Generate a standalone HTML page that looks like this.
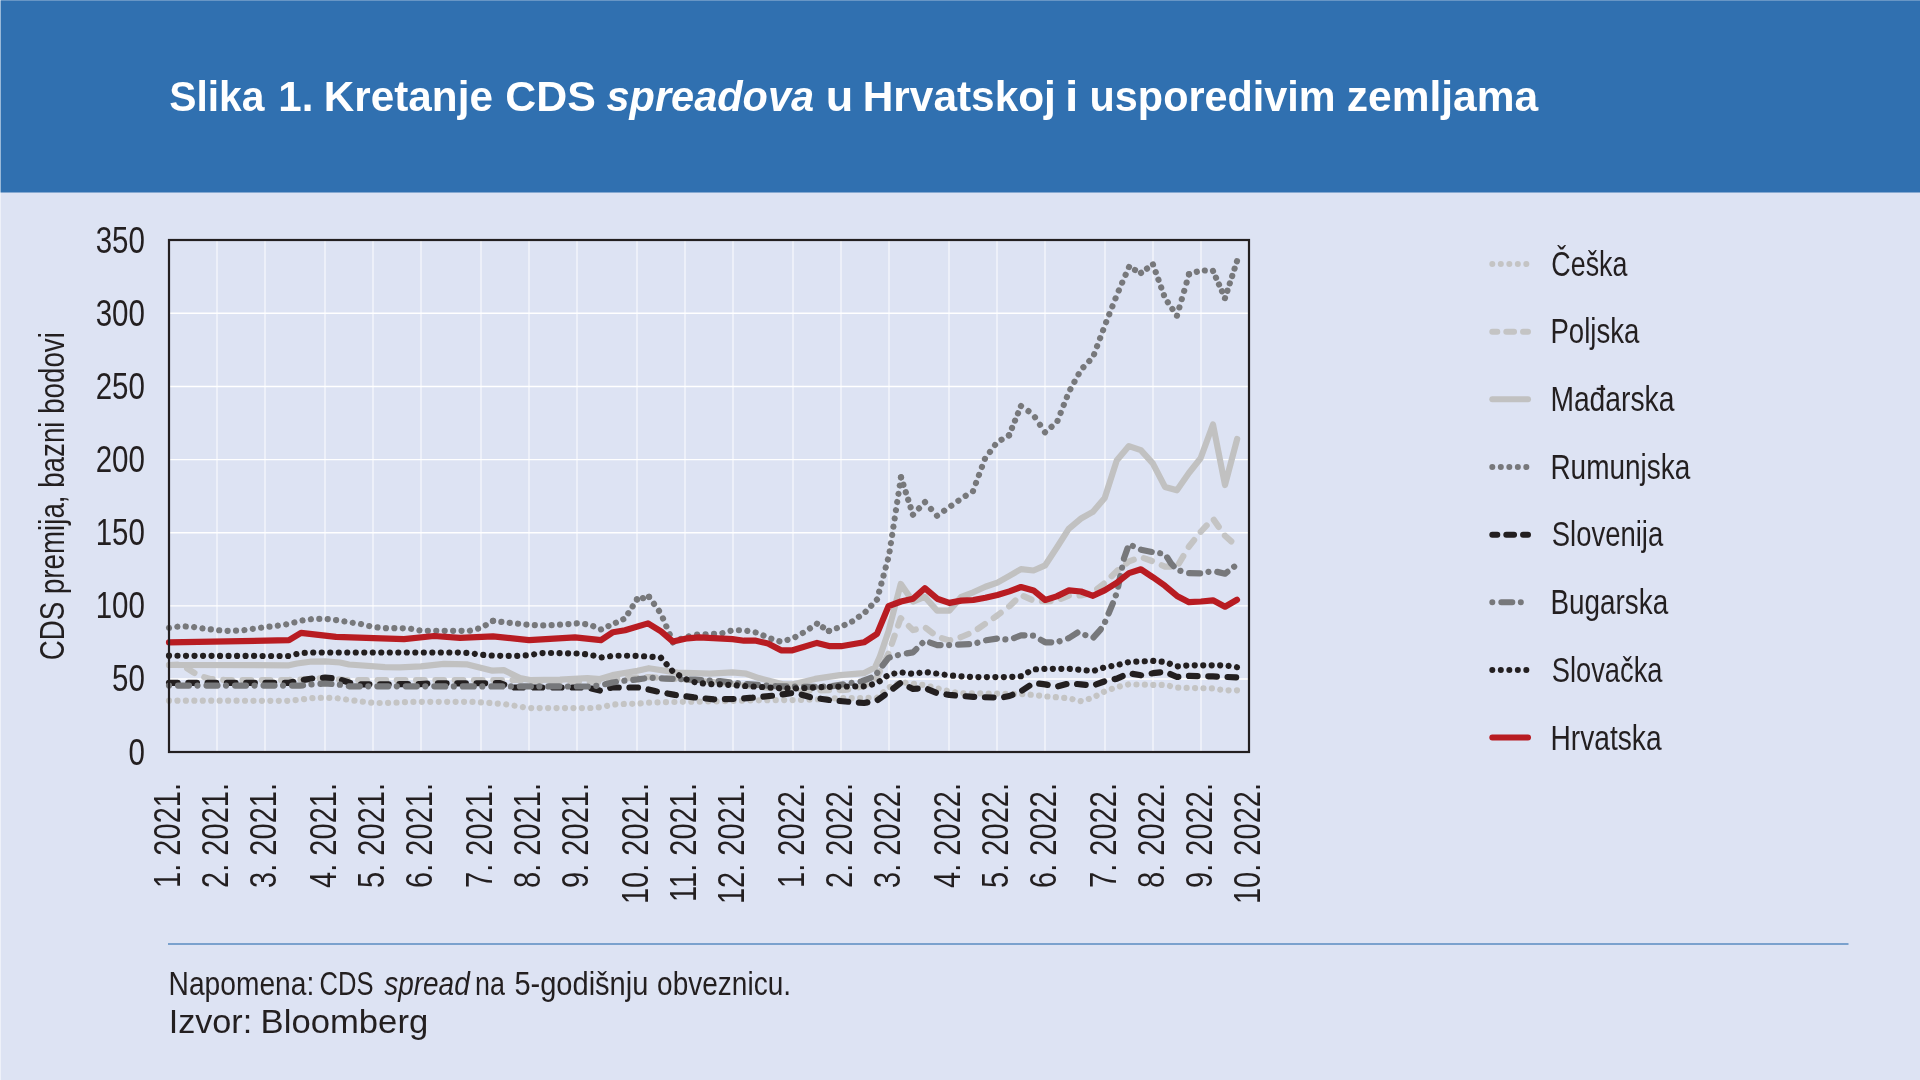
<!DOCTYPE html>
<html lang="hr"><head><meta charset="utf-8"><title>Slika 1. Kretanje CDS spreadova u Hrvatskoj i usporedivim zemljama</title>
<style>html,body{margin:0;padding:0;background:#dde3f3;}body{width:1920px;height:1080px;overflow:hidden;font-family:"Liberation Sans",sans-serif;}svg{display:block;will-change:transform;}svg text{font-family:"Liberation Sans",sans-serif;}</style>
</head><body>
<svg width="1920" height="1080" viewBox="0 0 1920 1080">
<rect x="0" y="0" width="1920" height="1080" fill="#dde3f3"/>
<rect x="0" y="0" width="1920" height="192.5" fill="#3070b0"/>
<rect x="0" y="0" width="1920" height="1" fill="#ffffff" fill-opacity="0.27"/>
<rect x="0" y="0" width="1" height="1080" fill="#ffffff" fill-opacity="0.5"/>
<g stroke="#ffffff" fill="none">
<line x1="217" y1="240" x2="217" y2="752" stroke="#f6f8fc" stroke-width="1.3"/>
<line x1="265" y1="240" x2="265" y2="752" stroke="#f6f8fc" stroke-width="1.3"/>
<line x1="325" y1="240" x2="325" y2="752" stroke="#f6f8fc" stroke-width="1.3"/>
<line x1="373" y1="240" x2="373" y2="752" stroke="#f6f8fc" stroke-width="1.3"/>
<line x1="421" y1="240" x2="421" y2="752" stroke="#f6f8fc" stroke-width="1.3"/>
<line x1="481" y1="240" x2="481" y2="752" stroke="#f6f8fc" stroke-width="1.3"/>
<line x1="529" y1="240" x2="529" y2="752" stroke="#f6f8fc" stroke-width="1.3"/>
<line x1="577" y1="240" x2="577" y2="752" stroke="#f6f8fc" stroke-width="1.3"/>
<line x1="637" y1="240" x2="637" y2="752" stroke="#f6f8fc" stroke-width="1.3"/>
<line x1="685" y1="240" x2="685" y2="752" stroke="#f6f8fc" stroke-width="1.3"/>
<line x1="733" y1="240" x2="733" y2="752" stroke="#f6f8fc" stroke-width="1.3"/>
<line x1="793" y1="240" x2="793" y2="752" stroke="#f6f8fc" stroke-width="1.3"/>
<line x1="841" y1="240" x2="841" y2="752" stroke="#f6f8fc" stroke-width="1.3"/>
<line x1="889" y1="240" x2="889" y2="752" stroke="#f6f8fc" stroke-width="1.3"/>
<line x1="949" y1="240" x2="949" y2="752" stroke="#f6f8fc" stroke-width="1.3"/>
<line x1="997" y1="240" x2="997" y2="752" stroke="#f6f8fc" stroke-width="1.3"/>
<line x1="1045" y1="240" x2="1045" y2="752" stroke="#f6f8fc" stroke-width="1.3"/>
<line x1="1105" y1="240" x2="1105" y2="752" stroke="#f6f8fc" stroke-width="1.3"/>
<line x1="1153" y1="240" x2="1153" y2="752" stroke="#f6f8fc" stroke-width="1.3"/>
<line x1="1201" y1="240" x2="1201" y2="752" stroke="#f6f8fc" stroke-width="1.3"/>
<line x1="169" y1="679.01" x2="1249" y2="679.01" stroke-width="1.4"/>
<line x1="169" y1="605.86" x2="1249" y2="605.86" stroke-width="1.4"/>
<line x1="169" y1="532.72" x2="1249" y2="532.72" stroke-width="1.4"/>
<line x1="169" y1="459.58" x2="1249" y2="459.58" stroke-width="1.4"/>
<line x1="169" y1="386.44" x2="1249" y2="386.44" stroke-width="1.4"/>
<line x1="169" y1="313.29" x2="1249" y2="313.29" stroke-width="1.4"/>
</g>
<g fill="none" stroke-width="6.2" stroke-linecap="round" stroke-linejoin="round">
<polyline stroke="#c4c4c4" stroke-dasharray="0.01 8.4350" points="169.0,700.7 181.0,700.7 193.0,700.7 205.0,700.7 217.0,700.7 229.0,700.7 241.0,700.7 253.0,700.8 265.0,700.8 277.0,700.8 289.0,700.8 301.0,699.5 313.0,698.1 325.0,697.6 337.0,698.2 349.0,699.9 361.0,701.5 373.0,702.9 385.0,703.1 397.0,702.5 409.0,701.9 421.0,701.8 433.0,701.8 445.0,701.8 457.0,701.8 469.0,701.8 481.0,702.3 493.0,703.2 505.0,704.2 517.0,706.1 529.0,708.1 541.0,708.1 553.0,708.1 565.0,708.1 577.0,708.1 589.0,708.1 601.0,707.2 613.0,704.6 625.0,703.9 637.0,703.7 649.0,702.7 661.0,702.2 673.0,702.0 685.0,701.8 697.0,701.7 709.0,701.5 721.0,701.2 733.0,700.9 745.0,700.6 757.0,700.3 769.0,700.2 781.0,700.1 793.0,700.1 805.0,699.8 817.0,699.3 829.0,698.7 841.0,698.2 853.0,698.1 865.0,698.0 877.0,697.9"/>
<polyline stroke="#c4c4c4" stroke-dasharray="0.01 8.4060" points="877.0,697.9 889.0,687.4 901.0,682.1 913.0,683.7 925.0,685.2 937.0,688.2 949.0,691.3 961.0,693.2 973.0,693.4 985.0,693.5 997.0,693.7 1009.0,693.9 1021.0,694.0 1033.0,694.9 1045.0,696.3 1057.0,697.3 1069.0,698.3 1081.0,701.2 1093.0,697.7 1105.0,691.3 1117.0,687.0 1129.0,684.3 1141.0,684.6 1153.0,684.9 1165.0,684.9 1177.0,687.6 1189.0,687.9 1201.0,688.2 1213.0,688.5 1225.0,690.3 1237.0,690.3"/>
<polyline stroke="#c4c4c4" stroke-dasharray="8.6 10.7" points="169.0,665.0 181.0,664.5 193.8,672.6 201.0,676.2 210.0,679.0 225.0,680.0 289.0,680.0 313.0,678.9 325.0,678.1 345.0,680.0 520.0,680.0 530.0,681.1 600.0,681.8 612.0,679.6 637.0,677.4 650.0,677.1 685.0,679.6 710.0,681.8 733.0,684.0 760.0,686.9 796.0,690.6 845.0,690.0 864.0,686.2 877.0,677.4 888.5,653.4 900.7,618.1 913.0,630.1 924.8,627.1 937.2,636.7 949.3,640.4 961.3,637.0 973.3,632.0 985.4,623.7 997.4,615.4 1009.4,606.2 1021.0,595.0 1033.5,600.6 1045.2,601.5 1056.7,600.6 1069.0,595.5 1081.0,595.5 1093.0,592.3 1105.0,582.7 1117.0,570.9 1129.0,561.4 1141.0,557.1 1153.0,561.4 1165.0,566.7 1177.0,566.7 1189.0,546.5 1201.0,531.5 1213.0,518.7 1225.0,535.8 1237.0,546.5"/>
<polyline stroke="#c1c1c1" points="169.0,665.0 289.0,665.3 297.0,663.5 310.0,661.7 325.0,661.3 340.0,662.5 349.0,664.5 385.0,667.2 400.0,667.4 421.0,666.4 443.8,663.9 467.5,664.4 492.5,670.7 503.8,670.1 520.0,678.1 530.0,680.0 560.0,679.6 587.5,678.1 600.0,679.0 612.5,675.1 637.5,670.7 648.8,668.2 677.5,672.6 710.0,673.7 732.5,672.3 746.2,673.7 758.8,678.1 783.8,684.4 792.5,684.4 815.0,678.9 840.0,675.1 863.8,673.2 875.0,667.4 880.0,656.2 888.5,631.2 900.7,583.9 913.0,601.5 924.8,596.9 937.2,610.7 949.3,610.7 961.3,596.9 973.3,592.3 985.4,586.7 997.4,582.6 1009.4,575.9 1021.0,569.1 1033.5,570.5 1045.2,565.3 1056.7,547.8 1068.7,528.9 1080.6,518.8 1092.8,511.9 1104.7,498.0 1116.7,460.6 1128.9,446.1 1140.8,450.1 1152.8,463.4 1165.0,486.9 1176.9,490.3 1188.9,473.0 1200.6,458.3 1213.0,424.5 1225.0,485.0 1237.2,438.9"/>
<polyline stroke="#77787b" stroke-dasharray="0.01 8.4178" points="169.0,627.9 181.0,626.2 193.0,626.9 205.0,628.8 217.0,630.1 229.0,630.9 241.0,630.5 253.0,628.8 265.0,627.2 277.0,625.8 289.0,623.9 301.0,620.6 313.0,618.9 325.0,618.8 337.0,620.2 349.0,622.2 361.0,624.1 373.0,627.0 385.0,628.1 397.0,628.2 409.0,628.4 421.0,630.7 433.0,630.8 445.0,630.8 457.0,630.8 469.0,630.9 481.0,627.9 493.0,620.9"/>
<polyline stroke="#77787b" stroke-dasharray="0.01 8.3984" points="493.0,620.9 505.0,622.3 517.0,623.6 529.0,624.9 541.0,625.4 553.0,625.0 565.0,624.4 577.0,623.4 589.0,624.5 601.0,629.4"/>
<polyline stroke="#77787b" stroke-dasharray="0.01 8.1379" points="601.0,629.4 613.0,624.1 625.0,618.5 637.0,599.4"/>
<polyline stroke="#77787b" stroke-dasharray="0.01 6.1174" points="637.0,599.4 649.0,596.9"/>
<polyline stroke="#77787b" stroke-dasharray="0.01 8.5833" points="649.0,596.9 661.0,613.7 673.0,642.2"/>
<polyline stroke="#77787b" stroke-dasharray="0.01 8.4546" points="673.0,642.2 685.0,637.1 697.0,634.7 709.0,634.1 721.0,633.6 733.0,630.1 745.0,630.4 757.0,632.7 769.0,638.0 781.0,641.8 793.0,638.3 805.0,631.7 817.0,623.7"/>
<polyline stroke="#77787b" stroke-dasharray="0.01 6.9788" points="817.0,623.7 829.0,630.9"/>
<polyline stroke="#77787b" stroke-dasharray="0.01 8.3134" points="829.0,630.9 841.0,626.7 853.0,621.1 865.0,612.4 877.0,599.6 889.0,555.5 901.0,477.3"/>
<polyline stroke="#77787b" stroke-dasharray="0.01 7.8481" points="901.0,477.3 913.0,514.7"/>
<polyline stroke="#77787b" stroke-dasharray="0.01 8.7120" points="913.0,514.7 925.0,502.1"/>
<polyline stroke="#77787b" stroke-dasharray="0.01 9.1215" points="925.0,502.1 937.0,515.8"/>
<polyline stroke="#77787b" stroke-dasharray="0.01 8.7310" points="937.0,515.8 949.0,507.4 961.0,498.8 973.0,491.1"/>
<polyline stroke="#77787b" stroke-dasharray="0.01 8.5793" points="973.0,491.1 985.0,458.7 997.0,442.3 1009.0,435.3"/>
<polyline stroke="#77787b" stroke-dasharray="0.01 7.9098" points="1009.0,435.3 1021.0,406.0"/>
<polyline stroke="#77787b" stroke-dasharray="0.01 9.0582" points="1021.0,406.0 1033.0,414.2 1045.0,432.3"/>
<polyline stroke="#77787b" stroke-dasharray="0.01 8.5370" points="1045.0,432.3 1057.0,422.2 1069.0,391.7 1081.0,369.8 1093.0,357.2 1105.0,325.1 1117.0,294.6 1129.0,267.0"/>
<polyline stroke="#77787b" stroke-dasharray="0.01 6.6845" points="1129.0,267.0 1141.0,272.9"/>
<polyline stroke="#77787b" stroke-dasharray="0.01 7.3430" points="1141.0,272.9 1153.0,264.4"/>
<polyline stroke="#77787b" stroke-dasharray="0.01 8.1447" points="1153.0,264.4 1165.0,298.1 1177.0,315.7"/>
<polyline stroke="#77787b" stroke-dasharray="0.01 8.6067" points="1177.0,315.7 1189.0,274.3"/>
<polyline stroke="#77787b" stroke-dasharray="0.01 8.2152" points="1189.0,274.3 1201.0,270.3 1213.0,270.9"/>
<polyline stroke="#77787b" stroke-dasharray="0.01 7.4244" points="1213.0,270.9 1225.0,298.1"/>
<polyline stroke="#77787b" stroke-dasharray="0.01 7.7380" points="1225.0,298.1 1237.0,261.2"/>
<polyline stroke="#231f20" stroke-dasharray="8.6 10.7" points="169.0,682.8 289.0,682.8 301.0,680.3 313.0,678.4 325.0,677.7 337.0,678.6 349.0,682.5 361.0,684.4 420.0,684.1 432.0,683.4 500.0,683.2 512.0,687.5 587.0,687.5 600.0,690.6 612.0,687.5 640.0,687.5 656.0,691.3 675.0,694.9 694.0,697.4 714.0,699.3 734.0,699.0 752.5,697.7 772.5,695.7 791.0,693.2 800.0,694.2 811.0,697.4 830.0,700.1 849.0,701.8 864.0,703.0 877.0,700.5 888.5,692.2 900.7,682.7 913.0,689.0 924.8,687.9 937.2,693.2 949.3,694.9 973.3,696.9 1001.0,697.7 1009.4,696.0 1021.0,691.3 1033.5,683.0 1045.2,684.4 1056.7,686.6 1069.0,683.4 1081.0,684.3 1093.0,685.6 1105.0,681.2 1117.0,678.6 1129.0,673.2 1141.0,675.3 1153.0,673.2 1165.0,671.7 1177.0,677.0 1189.0,675.9 1213.0,676.4 1237.0,677.4"/>
<polyline stroke="#77787b" stroke-dasharray="0.01 9 11 8.5" points="169.0,685.6 300.0,685.6 313.0,684.3 325.0,683.5 340.0,684.7 349.0,686.3 590.0,686.5 600.0,685.4 612.5,682.5 622.5,680.9 637.5,679.4 650.0,677.7 665.0,678.6 677.5,679.1 695.0,679.7 720.0,681.2 745.0,684.0 777.0,686.3 812.0,686.9 831.0,686.3 845.0,684.0 862.0,681.2 875.0,676.2 880.0,668.8 888.5,657.9 900.7,654.3 913.0,652.4 924.8,640.7 937.2,645.1 949.3,645.1 973.3,644.0 985.4,640.4 997.4,638.5 1009.4,639.9 1021.0,635.3 1033.5,635.7 1045.2,642.3 1056.7,642.3 1069.0,638.0 1078.0,632.3 1093.0,638.0 1100.5,629.6 1105.0,622.1 1113.0,602.9 1117.0,592.3 1124.0,558.2 1129.0,544.3 1141.0,549.7 1153.0,552.2 1165.0,553.9 1171.0,563.4 1177.0,569.9 1189.0,573.1 1201.0,573.5 1213.0,570.9 1225.0,573.7 1237.0,564.5"/>
<polyline stroke="#231f20" stroke-dasharray="0.01 8.4974" points="169.0,655.7 181.0,655.8 193.0,655.8 205.0,655.8 217.0,655.9 229.0,655.9 241.0,655.9 253.0,655.9 265.0,656.0 277.0,656.0 289.0,656.0 301.0,652.9 313.0,652.5 325.0,652.5 337.0,652.5 349.0,652.5 361.0,652.5 373.0,652.5 385.0,652.5 397.0,652.5 409.0,652.5 421.0,652.5 433.0,652.5 445.0,652.5 457.0,652.5 469.0,652.9 481.0,654.8 493.0,655.6 505.0,655.9 517.0,655.8 529.0,655.2 541.0,653.1 553.0,653.0 565.0,653.3 577.0,653.5 589.0,654.5 601.0,657.5 613.0,655.8 625.0,655.7 637.0,655.9 649.0,656.5 661.0,657.9"/>
<polyline stroke="#231f20" stroke-dasharray="0.01 8.4657" points="661.0,657.9 673.0,671.7 685.0,678.9 697.0,682.9 709.0,684.0 721.0,684.4 733.0,685.1 745.0,686.0 757.0,686.7 769.0,687.4 781.0,688.3 793.0,688.5 805.0,688.0 817.0,687.4 829.0,686.9 841.0,686.5 853.0,686.5 865.0,686.3 877.0,683.2 889.0,674.5 901.0,672.3 913.0,673.9 925.0,672.0 937.0,673.6 949.0,675.4 961.0,676.3 973.0,677.1 985.0,677.1 997.0,677.1 1009.0,677.1 1021.0,676.2 1033.0,669.4 1045.0,668.8 1057.0,668.8 1069.0,668.8 1081.0,669.9 1093.0,671.1 1105.0,667.2 1117.0,665.1 1129.0,662.0 1141.0,661.4 1153.0,660.9 1165.0,662.0 1177.0,666.4 1189.0,665.3 1201.0,665.3 1213.0,665.3 1225.0,665.3 1237.0,667.2"/>
<polyline stroke="#b81c22" points="169.0,642.4 289.0,640.2 301.0,632.8 336.0,636.9 404.0,639.1 434.0,636.0 460.0,637.9 493.0,636.3 529.0,640.2 575.0,637.3 601.0,640.2 613.0,632.2 625.0,630.3 648.0,623.4 661.0,631.3 673.0,641.6 687.5,638.3 699.0,637.3 732.5,639.1 744.0,640.7 756.0,640.7 768.0,643.5 781.0,650.3 792.5,650.3 817.0,642.9 830.0,646.2 841.0,646.2 864.0,642.3 877.0,633.9 888.5,606.2 901.0,601.5 913.0,598.7 924.8,588.2 937.2,598.7 949.3,602.9 961.3,600.6 973.3,600.0 985.4,597.8 997.4,595.0 1009.4,591.4 1021.0,587.0 1033.5,590.4 1045.2,600.0 1056.7,596.4 1069.0,590.4 1081.0,591.5 1093.0,595.8 1105.0,590.1 1117.0,582.7 1129.0,573.1 1141.0,569.3 1153.0,577.3 1165.0,585.8 1177.0,595.9 1189.0,602.2 1201.0,601.5 1213.0,600.3 1225.0,606.7 1237.0,599.7"/>
</g>
<rect x="169" y="240" width="1080" height="512" fill="none" stroke="#231f20" stroke-width="2.2"/>
<g fill="none" stroke-width="6" stroke-linecap="round">
<line x1="1492.3" y1="264.00" x2="1526.5" y2="264.00" stroke="#c4c4c4" stroke-dasharray="0.01 8.5"/>
<line x1="1492.3" y1="331.66" x2="1528.0" y2="331.66" stroke="#c4c4c4" stroke-dasharray="7.75 9" stroke-dashoffset="2.75"/>
<line x1="1492.3" y1="399.32" x2="1528.0" y2="399.32" stroke="#c1c1c1"/>
<line x1="1492.3" y1="466.98" x2="1526.5" y2="466.98" stroke="#77787b" stroke-dasharray="0.01 8.5"/>
<line x1="1492.3" y1="534.64" x2="1528.0" y2="534.64" stroke="#231f20" stroke-dasharray="7.75 9" stroke-dashoffset="2.75"/>
<line x1="1492.3" y1="602.30" x2="1528.0" y2="602.30" stroke="#77787b" stroke-dasharray="0.01 9 11 8.5"/>
<line x1="1492.3" y1="669.96" x2="1526.5" y2="669.96" stroke="#231f20" stroke-dasharray="0.01 8.5"/>
<line x1="1492.3" y1="737.62" x2="1528.0" y2="737.62" stroke="#b81c22"/>
</g>
<line x1="168" y1="944" x2="1848.5" y2="944" stroke="#7aa1cd" stroke-width="2"/>
<g>
<text transform="translate(169.26 111.00) scale(0.9705 1)" font-size="42" fill="#ffffff" font-weight="bold">Slika</text>
<text transform="translate(278.27 111.00) scale(1.0026 1)" font-size="42" fill="#ffffff" font-weight="bold">1.</text>
<text transform="translate(323.86 111.00) scale(1.0061 1)" font-size="42" fill="#ffffff" font-weight="bold">Kretanje</text>
<text transform="translate(505.26 111.00) scale(1.0214 1)" font-size="42" fill="#ffffff" font-weight="bold">CDS</text>
<text transform="translate(606.50 111.00) scale(0.9882 1)" font-size="42" fill="#ffffff" font-weight="bold" font-style="italic">spreadova</text>
<text transform="translate(825.69 111.00) scale(1.0714 1)" font-size="42" fill="#ffffff" font-weight="bold">u</text>
<text transform="translate(862.75 111.00) scale(1.0091 1)" font-size="42" fill="#ffffff" font-weight="bold">Hrvatskoj</text>
<text transform="translate(1065.10 111.00) scale(1.1429 1)" font-size="42" fill="#ffffff" font-weight="bold">i</text>
<text transform="translate(1089.56 111.00) scale(0.9854 1)" font-size="42" fill="#ffffff" font-weight="bold">usporedivim</text>
<text transform="translate(1346.77 111.00) scale(1.0119 1)" font-size="42" fill="#ffffff" font-weight="bold">zemljama</text>
<text transform="translate(128.53 764.60) scale(0.8149 1)" font-size="36.2" fill="#231f20">0</text>
<text transform="translate(112.12 691.46) scale(0.8149 1)" font-size="36.2" fill="#231f20">50</text>
<text transform="translate(95.72 618.31) scale(0.8149 1)" font-size="36.2" fill="#231f20">100</text>
<text transform="translate(95.72 545.17) scale(0.8149 1)" font-size="36.2" fill="#231f20">150</text>
<text transform="translate(95.72 472.03) scale(0.8149 1)" font-size="36.2" fill="#231f20">200</text>
<text transform="translate(95.72 398.89) scale(0.8149 1)" font-size="36.2" fill="#231f20">250</text>
<text transform="translate(95.72 325.74) scale(0.8149 1)" font-size="36.2" fill="#231f20">300</text>
<text transform="translate(95.72 252.60) scale(0.8149 1)" font-size="36.2" fill="#231f20">350</text>
<text transform="translate(64.20 660.30) rotate(-90) scale(0.8013 1)" font-size="34.6" fill="#231f20">CDS premija, bazni bodovi</text>
<text transform="translate(180.20 887.91) rotate(-90) scale(0.7805 1)" font-size="37.2" fill="#231f20">1. 2021.</text>
<text transform="translate(228.20 887.91) rotate(-90) scale(0.7805 1)" font-size="37.2" fill="#231f20">2. 2021.</text>
<text transform="translate(276.20 887.91) rotate(-90) scale(0.7805 1)" font-size="37.2" fill="#231f20">3. 2021.</text>
<text transform="translate(336.20 887.91) rotate(-90) scale(0.7805 1)" font-size="37.2" fill="#231f20">4. 2021.</text>
<text transform="translate(384.20 887.91) rotate(-90) scale(0.7805 1)" font-size="37.2" fill="#231f20">5. 2021.</text>
<text transform="translate(432.20 887.91) rotate(-90) scale(0.7805 1)" font-size="37.2" fill="#231f20">6. 2021.</text>
<text transform="translate(492.20 887.91) rotate(-90) scale(0.7805 1)" font-size="37.2" fill="#231f20">7. 2021.</text>
<text transform="translate(540.20 887.91) rotate(-90) scale(0.7805 1)" font-size="37.2" fill="#231f20">8. 2021.</text>
<text transform="translate(588.20 887.91) rotate(-90) scale(0.7805 1)" font-size="37.2" fill="#231f20">9. 2021.</text>
<text transform="translate(648.20 904.06) rotate(-90) scale(0.7805 1)" font-size="37.2" fill="#231f20">10. 2021.</text>
<text transform="translate(696.20 901.91) rotate(-90) scale(0.7805 1)" font-size="37.2" fill="#231f20">11. 2021.</text>
<text transform="translate(744.20 904.06) rotate(-90) scale(0.7805 1)" font-size="37.2" fill="#231f20">12. 2021.</text>
<text transform="translate(804.20 887.91) rotate(-90) scale(0.7805 1)" font-size="37.2" fill="#231f20">1. 2022.</text>
<text transform="translate(852.20 887.91) rotate(-90) scale(0.7805 1)" font-size="37.2" fill="#231f20">2. 2022.</text>
<text transform="translate(900.20 887.91) rotate(-90) scale(0.7805 1)" font-size="37.2" fill="#231f20">3. 2022.</text>
<text transform="translate(960.20 887.91) rotate(-90) scale(0.7805 1)" font-size="37.2" fill="#231f20">4. 2022.</text>
<text transform="translate(1008.20 887.91) rotate(-90) scale(0.7805 1)" font-size="37.2" fill="#231f20">5. 2022.</text>
<text transform="translate(1056.20 887.91) rotate(-90) scale(0.7805 1)" font-size="37.2" fill="#231f20">6. 2022.</text>
<text transform="translate(1116.20 887.91) rotate(-90) scale(0.7805 1)" font-size="37.2" fill="#231f20">7. 2022.</text>
<text transform="translate(1164.20 887.91) rotate(-90) scale(0.7805 1)" font-size="37.2" fill="#231f20">8. 2022.</text>
<text transform="translate(1212.20 887.91) rotate(-90) scale(0.7805 1)" font-size="37.2" fill="#231f20">9. 2022.</text>
<text transform="translate(1260.20 904.06) rotate(-90) scale(0.7805 1)" font-size="37.2" fill="#231f20">10. 2022.</text>
<text transform="translate(1551.34 275.60) scale(0.7670 1)" font-size="35.0" fill="#231f20">Češka</text>
<text transform="translate(1550.44 343.32) scale(0.7887 1)" font-size="35.0" fill="#231f20">Poljska</text>
<text transform="translate(1550.39 411.04) scale(0.8071 1)" font-size="35.0" fill="#231f20">Mađarska</text>
<text transform="translate(1550.41 478.76) scale(0.7997 1)" font-size="35.0" fill="#231f20">Rumunjska</text>
<text transform="translate(1551.74 546.48) scale(0.7849 1)" font-size="35.0" fill="#231f20">Slovenija</text>
<text transform="translate(1550.42 614.20) scale(0.7967 1)" font-size="35.0" fill="#231f20">Bugarska</text>
<text transform="translate(1551.75 681.92) scale(0.7800 1)" font-size="35.0" fill="#231f20">Slovačka</text>
<text transform="translate(1550.40 749.64) scale(0.8055 1)" font-size="35.0" fill="#231f20">Hrvatska</text>
<text transform="translate(168.60 994.70) scale(0.8335 1)" font-size="33.8" fill="#231f20">Napomena:</text>
<text transform="translate(319.60 994.70) scale(0.7563 1)" font-size="33.8" fill="#231f20">CDS</text>
<text transform="translate(384.20 994.70) scale(0.8278 1)" font-size="33.8" fill="#231f20" font-style="italic">spread</text>
<text transform="translate(475.12 994.70) scale(0.7956 1)" font-size="33.8" fill="#231f20">na</text>
<text transform="translate(514.39 994.70) scale(0.8594 1)" font-size="33.8" fill="#231f20">5-godišnju</text>
<text transform="translate(657.12 994.70) scale(0.8287 1)" font-size="33.8" fill="#231f20">obveznicu.</text>
<text transform="translate(168.63 1032.50) scale(1.0277 1)" font-size="33.3" fill="#231f20">Izvor:</text>
<text transform="translate(260.59 1032.50) scale(1.0411 1)" font-size="33.3" fill="#231f20">Bloomberg</text>
</g>
</svg></body></html>
